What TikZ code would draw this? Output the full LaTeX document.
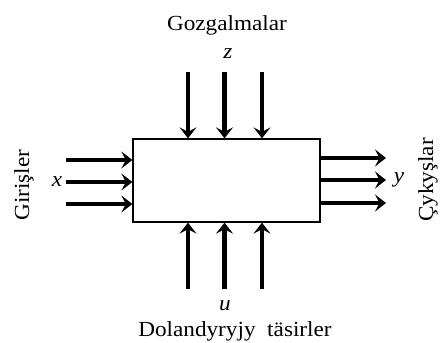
\documentclass[tikz,border=0pt]{standalone}
\usepackage{fontspec}
\setmainfont{Liberation Serif}[FakeStretch=1.08]
\usetikzlibrary{arrows.meta}
\begin{document}
\begin{tikzpicture}[x=1pt,y=-1pt,
  every node/.style={font=\fontsize{21.5}{24}\selectfont, inner sep=0pt},
  sig/.style={line width=4.5pt, -{Stealth[length=11pt,width=17pt,inset=4.5pt]}},
  var/.style={font=\fontsize{21.5}{24}\selectfont\itshape}]
\useasboundingbox (0,0) rectangle (440,343);
% the object block
\node[draw, line width=1.3pt, minimum width=187pt, minimum height=83pt] (obj) at (226.5,180.5) {};
% input arrows (left)
\foreach \i/\y in {1/160,2/182,3/204} {
  \coordinate (in\i) at (66,\y);
  \draw[sig] (in\i) -- (in\i -| obj.west);
}
% output arrows (right)
\foreach \i/\y in {1/158,2/180,3/203} {
  \coordinate (out\i) at (386,\y);
  \draw[sig] (out\i -| obj.east) -- (out\i);
}
% disturbance arrows (top)
\foreach \i/\x in {1/188,2/224.5,3/262} {
  \coordinate (dist\i) at (\x,72);
  \draw[sig] (dist\i) -- (dist\i |- obj.north);
}
% control arrows (bottom)
\foreach \i/\x in {1/188,2/224.5,3/262} {
  \coordinate (ctrl\i) at (\x,289);
  \draw[sig] (ctrl\i) -- (ctrl\i |- obj.south);
}
% labels
\node (gz) at (227,25) {Gozgalmalar};
\node[var] (z) at (228,54) {z};
\node[var] (u) at (225,306) {u};
\node (dt) at (235,331) {Dolandyryjy\ \ täsirler};
\node[var] (x) at (57,182) {x};
\node[var] (y) at (399,180) {y};
\node[rotate=90] (gi) at (24,185) {Girişler};
\node[rotate=90] (cy) at (428,180) {Çykyşlar};
\end{tikzpicture}
\end{document}
